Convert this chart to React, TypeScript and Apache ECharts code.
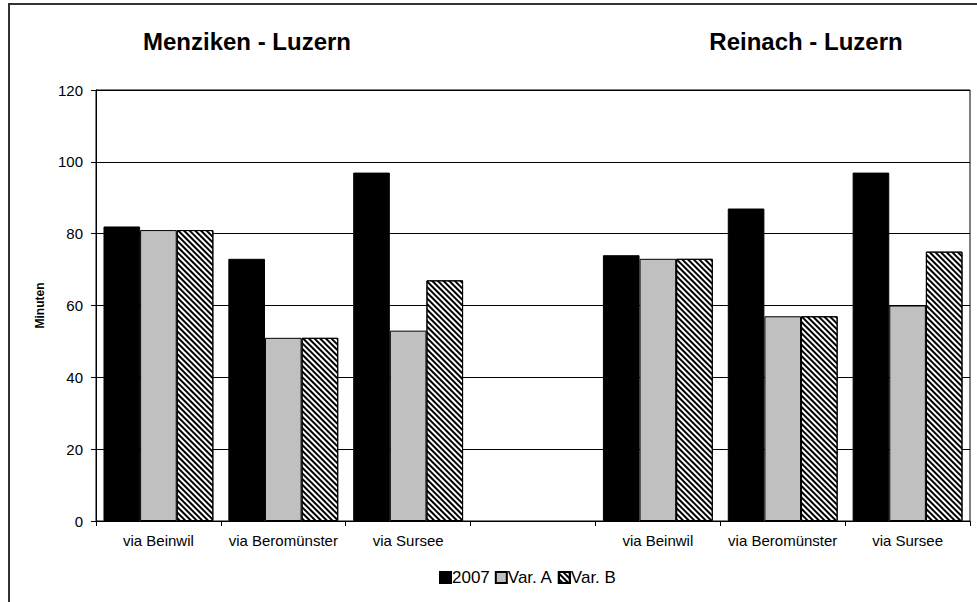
import React, { useEffect, useRef } from "react";
import * as echarts from "echarts";

const categories = ["via Beinwil", "via Beromünster", "via Sursee", "", "via Beinwil", "via Beromünster", "via Sursee"];
const values2007 = [82, 73, 97, null, 74, 87, 97];
const valuesVarA = [81, 51, 53, null, 73, 57, 60];
const valuesVarB = [81, 51, 67, null, 73, 57, 75];
const yTicks = [0, 20, 40, 60, 80, 100, 120];
const titles = ["Menziken - Luzern", "Reinach - Luzern"];
const seriesNames = ["2007", "Var. A", "Var. B"];

const FONT = 'Arial, "Liberation Sans", sans-serif';

export default function App() {
  const ref = useRef<HTMLDivElement>(null);
  useEffect(() => {
    if (!ref.current) return;
    const chart = echarts.init(ref.current, null, { renderer: "svg" });
    const hatch = {
      symbol: "rect",
      symbolSize: 1,
      rotation: Math.PI / 4,
      dashArrayX: [1, 0],
      dashArrayY: [2, 2],
      color: "#000",
      backgroundColor: "#fff",
    };
    chart.setOption({
      animation: false,
      textStyle: { fontFamily: FONT },
      graphic: [
        {
          type: "rect",
          shape: { x: 9, y: 4, width: 1000, height: 700 },
          style: { fill: "none", stroke: "#333", lineWidth: 2 },
          silent: true,
        },
        {
          type: "text",
          x: 247,
          y: 41,
          style: { text: titles[0], font: `bold 24px ${FONT}`, fill: "#000", align: "center", verticalAlign: "middle" },
        },
        {
          type: "text",
          x: 806,
          y: 41,
          style: { text: titles[1], font: `bold 24px ${FONT}`, fill: "#000", align: "center", verticalAlign: "middle" },
        },
      ],
      legend: {
        bottom: 11,
        left: 434,
        itemWidth: 11,
        itemHeight: 11,
        itemGap: 5,
        textStyle: { fontSize: 17, color: "#000", fontFamily: FONT, padding: [0, 0, 0, -4] },
        data: seriesNames.map((n) => ({ name: n, icon: "rect" })),
      },
      grid: {
        left: 96,
        top: 90,
        right: 7,
        bottom: 81,
        show: true,
        borderColor: "#000",
        borderWidth: 1,
        backgroundColor: "#fff",
      },
      xAxis: {
        type: "category",
        data: categories,
        boundaryGap: true,
        axisLine: { lineStyle: { color: "#000", width: 1 } },
        axisTick: { show: true, alignWithLabel: false, length: 5, lineStyle: { color: "#000" } },
        axisLabel: { color: "#000", fontSize: 15, margin: 12, fontFamily: FONT, interval: 0 },
      },
      yAxis: {
        type: "value",
        min: yTicks[0],
        max: yTicks[yTicks.length - 1],
        interval: 20,
        name: "Minuten",
        nameLocation: "middle",
        nameGap: 50,
        nameTextStyle: { fontWeight: "bold", fontSize: 12, color: "#000", fontFamily: FONT },
        axisLine: { show: true, lineStyle: { color: "#000" } },
        axisTick: { show: true, length: 5, lineStyle: { color: "#000" } },
        axisLabel: { color: "#000", fontSize: 15, margin: 13, fontFamily: FONT },
        splitLine: { show: true, lineStyle: { color: "#000", width: 1 } },
      },
      series: [
        {
          name: seriesNames[0],
          type: "bar",
          data: values2007,
          barGap: "0%",
          barCategoryGap: "12%",
          itemStyle: { color: "#000", borderColor: "#000", borderWidth: 1 },
        },
        {
          name: seriesNames[1],
          type: "bar",
          data: valuesVarA,
          barGap: "0%",
          barCategoryGap: "12%",
          itemStyle: { color: "#c0c0c0", borderColor: "#000", borderWidth: 1 },
        },
        {
          name: seriesNames[2],
          type: "bar",
          data: valuesVarB,
          barGap: "0%",
          barCategoryGap: "12%",
          itemStyle: { color: "#fff", borderColor: "#000", borderWidth: 1, decal: hatch },
        },
      ],
    });
    return () => chart.dispose();
  }, []);
  return (
    <div
      ref={ref}
      style={{ position: "fixed", left: 0, top: 0, width: 977, height: 602, background: "#fff" }}
    />
  );
}
